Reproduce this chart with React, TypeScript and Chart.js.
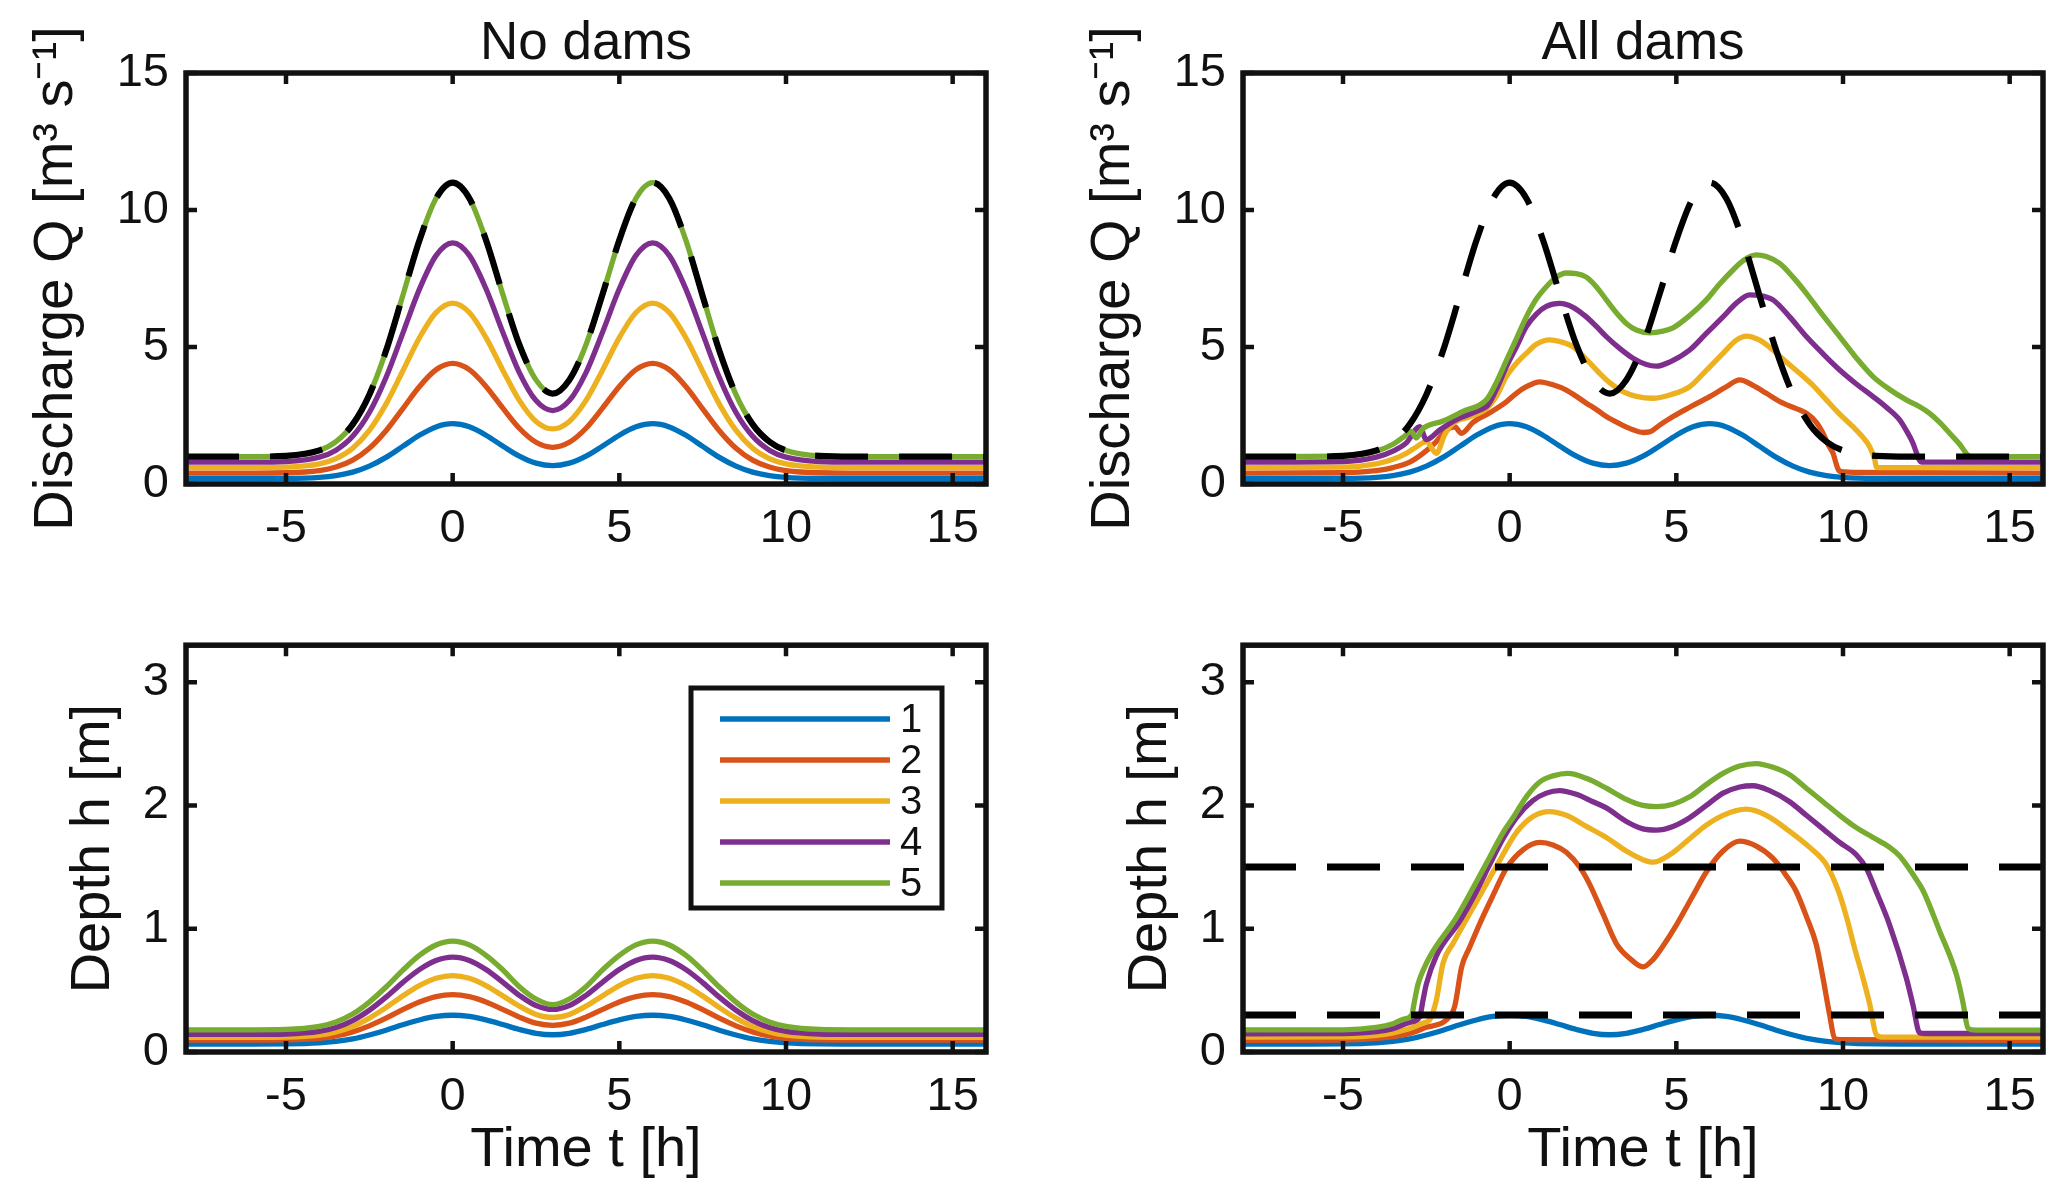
import { useEffect, useRef } from "react";
import { Chart, registerables } from "chart.js";

Chart.register(...registerables);

const FONT = "'Liberation Sans', Arial, Helvetica, sans-serif";
const INK = "#111111";
const SERIES_COLORS = ["#0072BD", "#D95319", "#EDB120", "#7E2F8E", "#77AC30"];
const SERIES_LABELS = ["1", "2", "3", "4", "5"];
const INFLOW_COLOR = "#000000";

// axes
const TIME_MIN = -8;
const TIME_MAX = 16;
const TIME_TICKS = [-5, 0, 5, 10, 15];
const Q_MAX = 15;
const Q_TICKS = [0, 5, 10, 15];
const H_MAX = 3.3;
const H_TICKS = [0, 1, 2, 3];

// ---------- No dams (shared time base) ----------
const timeNoDams = [-8, -6, -5, -4, -3.5, -3, -2.5, -2, -1.5, -1, -0.5, 0, 0.5, 1, 1.5, 2, 2.5, 3, 3.5, 4, 4.5, 5, 5.5, 6, 6.5, 7, 7.5, 8, 8.5, 9, 9.5, 10, 11, 12, 16];

const noDamsQ1 = [0.2, 0.2, 0.205, 0.245, 0.309, 0.435, 0.652, 0.972, 1.372, 1.776, 2.084, 2.2, 2.086, 1.781, 1.388, 1.017, 0.761, 0.67, 0.761, 1.017, 1.388, 1.781, 2.086, 2.2, 2.084, 1.776, 1.372, 0.972, 0.652, 0.435, 0.309, 0.245, 0.205, 0.2, 0.2];
const noDamsQ2 = [0.4, 0.4, 0.41, 0.49, 0.618, 0.87, 1.304, 1.944, 2.744, 3.552, 4.168, 4.4, 4.172, 3.562, 2.776, 2.034, 1.522, 1.34, 1.522, 2.034, 2.776, 3.562, 4.172, 4.4, 4.168, 3.552, 2.744, 1.944, 1.304, 0.87, 0.618, 0.49, 0.41, 0.4, 0.4];
const noDamsQ3 = [0.6, 0.6, 0.615, 0.735, 0.927, 1.305, 1.956, 2.916, 4.116, 5.328, 6.252, 6.6, 6.258, 5.343, 4.164, 3.051, 2.283, 2.01, 2.283, 3.051, 4.164, 5.343, 6.258, 6.6, 6.252, 5.328, 4.116, 2.916, 1.956, 1.305, 0.927, 0.735, 0.615, 0.6, 0.6];
const noDamsQ4 = [0.8, 0.8, 0.82, 0.98, 1.236, 1.74, 2.608, 3.888, 5.488, 7.104, 8.336, 8.8, 8.344, 7.124, 5.552, 4.068, 3.044, 2.68, 3.044, 4.068, 5.552, 7.124, 8.344, 8.8, 8.336, 7.104, 5.488, 3.888, 2.608, 1.74, 1.236, 0.98, 0.82, 0.8, 0.8];
// outlet of reach 5 without dams = inflow hydrograph (black dashed)
const noDamsQ5 = [1.0, 1.0, 1.025, 1.225, 1.545, 2.175, 3.26, 4.86, 6.86, 8.88, 10.42, 11.0, 10.43, 8.905, 6.94, 5.085, 3.8, 3.3, 3.8, 5.085, 6.94, 8.905, 10.43, 11.0, 10.42, 8.88, 6.86, 4.86, 3.26, 2.175, 1.545, 1.225, 1.025, 1.0, 1.0];

const noDamsH1 = [0.065, 0.065, 0.066, 0.074, 0.086, 0.106, 0.138, 0.177, 0.221, 0.26, 0.288, 0.298, 0.288, 0.26, 0.223, 0.183, 0.152, 0.14, 0.152, 0.183, 0.223, 0.26, 0.288, 0.298, 0.288, 0.26, 0.221, 0.177, 0.138, 0.106, 0.086, 0.074, 0.066, 0.065, 0.065];
const noDamsH2 = [0.097, 0.097, 0.099, 0.111, 0.13, 0.163, 0.212, 0.274, 0.343, 0.405, 0.449, 0.465, 0.449, 0.406, 0.346, 0.283, 0.234, 0.216, 0.234, 0.283, 0.346, 0.406, 0.449, 0.465, 0.449, 0.405, 0.343, 0.274, 0.212, 0.163, 0.13, 0.111, 0.099, 0.097, 0.097];
const noDamsH3 = [0.118, 0.118, 0.12, 0.137, 0.163, 0.207, 0.275, 0.36, 0.454, 0.538, 0.598, 0.62, 0.598, 0.539, 0.457, 0.372, 0.305, 0.28, 0.305, 0.372, 0.457, 0.539, 0.598, 0.62, 0.598, 0.538, 0.454, 0.36, 0.275, 0.207, 0.163, 0.137, 0.12, 0.118, 0.118];
const noDamsH4 = [0.143, 0.143, 0.146, 0.167, 0.199, 0.255, 0.339, 0.445, 0.563, 0.668, 0.742, 0.77, 0.743, 0.669, 0.567, 0.46, 0.377, 0.345, 0.377, 0.46, 0.567, 0.669, 0.743, 0.77, 0.742, 0.668, 0.563, 0.445, 0.339, 0.255, 0.199, 0.167, 0.146, 0.143, 0.143];
const noDamsH5 = [0.18, 0.18, 0.183, 0.208, 0.244, 0.308, 0.405, 0.527, 0.662, 0.783, 0.868, 0.9, 0.869, 0.784, 0.667, 0.53, 0.43, 0.385, 0.43, 0.53, 0.667, 0.784, 0.869, 0.9, 0.868, 0.783, 0.662, 0.527, 0.405, 0.308, 0.244, 0.208, 0.183, 0.18, 0.18];

// ---------- All dams: discharge ----------
const damsQ2T = [-8, -5, -4, -3.5, -3, -2.6, -2.2, -1.9, -1.65, -1.45, -1.1, -0.6, -0.1, 0.2, 0.5, 0.9, 1.3, 1.7, 2.0, 2.3, 2.6, 2.9, 3.3, 3.7, 4.0, 4.2, 4.5, 4.9, 5.4, 6.0, 6.5, 6.9, 7.3, 7.7, 8.2, 8.6, 8.9, 9.2, 9.4, 9.55, 9.7, 9.85, 9.95, 10.5, 16];
const damsQ2 = [0.4, 0.41, 0.49, 0.6, 0.8, 1.12, 1.55, 1.97, 2.09, 1.85, 2.25, 2.6, 3.0, 3.31, 3.55, 3.73, 3.62, 3.43, 3.2, 2.95, 2.72, 2.46, 2.2, 1.98, 1.88, 1.9, 2.15, 2.46, 2.8, 3.19, 3.55, 3.8, 3.6, 3.31, 2.95, 2.75, 2.58, 2.25, 1.85, 1.45, 1.12, 0.55, 0.45, 0.42, 0.4];

const damsQ3T = [-8, -5, -4, -3.5, -3.1, -2.8, -2.5, -2.2, -1.95, -1.7, -1.2, -0.7, -0.4, -0.1, 0.2, 0.5, 0.8, 1.2, 1.5, 1.9, 2.3, 2.7, 3.0, 3.4, 3.8, 4.3, 4.8, 5.4, 5.9, 6.4, 6.8, 7.1, 7.5, 7.9, 8.3, 8.7, 9.1, 9.5, 9.9, 10.3, 10.6, 10.8, 10.95, 11.0, 11.05, 16];
const damsQ3 = [0.6, 0.615, 0.735, 0.9, 1.12, 1.35, 1.55, 1.12, 1.8, 2.21, 2.45, 2.75, 3.2, 3.92, 4.4, 4.77, 5.1, 5.26, 5.2, 5.01, 4.55, 4.04, 3.7, 3.37, 3.2, 3.13, 3.25, 3.55, 4.15, 4.77, 5.25, 5.4, 5.25, 4.89, 4.45, 4.04, 3.6, 3.07, 2.55, 2.09, 1.7, 1.36, 0.9, 0.62, 0.6, 0.6];

const damsQ4T = [-8, -5, -4, -3.5, -3.1, -2.7, -2.5, -2.1, -1.6, -1.0, -0.64, -0.4, -0.1, 0.2, 0.5, 0.8, 1.1, 1.5, 1.9, 2.3, 2.6, 2.9, 3.3, 3.7, 4.1, 4.4, 4.8, 5.4, 5.9, 6.4, 6.8, 7.2, 7.5, 7.9, 8.4, 8.9, 9.4, 9.9, 10.4, 10.9, 11.3, 11.7, 11.9, 12.1, 12.2, 12.3, 12.35, 16];
const damsQ4 = [0.8, 0.82, 0.98, 1.2, 1.5, 2.09, 1.62, 1.97, 2.35, 2.65, 2.9, 3.45, 4.28, 5.0, 5.74, 6.2, 6.48, 6.59, 6.45, 6.1, 5.75, 5.38, 4.95, 4.59, 4.36, 4.3, 4.45, 4.89, 5.5, 6.1, 6.6, 6.9, 6.88, 6.72, 6.1, 5.38, 4.75, 4.16, 3.65, 3.19, 2.8, 2.34, 1.95, 1.49, 1.15, 0.85, 0.8, 0.8];

const damsQ5T = [-8, -5, -4, -3.5, -3.2, -2.95, -2.8, -2.62, -2.0, -1.4, -0.7, -0.4, -0.1, 0.2, 0.5, 0.8, 1.1, 1.4, 1.7, 2.0, 2.3, 2.6, 2.9, 3.2, 3.5, 3.8, 4.2, 4.6, 4.9, 5.4, 5.9, 6.3, 6.7, 7.0, 7.4, 7.7, 8.1, 8.5, 8.9, 9.4, 9.9, 10.4, 10.9, 11.4, 11.9, 12.3, 12.6, 12.9, 13.2, 13.5, 13.75, 13.85, 16];
const damsQ5 = [1.0, 1.025, 1.2, 1.45, 1.7, 1.92, 1.68, 2.0, 2.3, 2.65, 3.07, 3.7, 4.5, 5.3, 6.1, 6.75, 7.2, 7.55, 7.7, 7.68, 7.55, 7.2, 6.72, 6.25, 5.86, 5.62, 5.52, 5.58, 5.7, 6.15, 6.72, 7.3, 7.81, 8.15, 8.36, 8.3, 8.05, 7.55, 6.96, 6.15, 5.38, 4.6, 3.92, 3.45, 3.07, 2.82, 2.58, 2.25, 1.85, 1.45, 1.05, 1.0, 1.0];

// ---------- All dams: depth ----------
const damsH2T = [-8, -5, -4, -3.5, -3, -2.5, -1.9, -1.65, -1.44, -1.2, -0.9, -0.5, -0.1, 0.4, 0.9, 1.3, 1.7, 2.1, 2.4, 2.8, 3.2, 3.6, 4.0, 4.3, 4.6, 5.0, 5.5, 5.9, 6.4, 6.9, 7.4, 7.9, 8.3, 8.6, 8.9, 9.2, 9.4, 9.6, 9.75, 9.9, 16];
const damsH2 = [0.095, 0.097, 0.11, 0.125, 0.15, 0.2, 0.26, 0.37, 0.69, 0.85, 1.04, 1.27, 1.49, 1.64, 1.7, 1.68, 1.62, 1.5, 1.36, 1.12, 0.88, 0.76, 0.69, 0.75, 0.86, 1.03, 1.27, 1.46, 1.63, 1.71, 1.67, 1.57, 1.43, 1.3, 1.1, 0.87, 0.6, 0.3, 0.11, 0.1, 0.095];

const damsH3T = [-8, -5, -4, -3.5, -3, -2.6, -2.4, -2.2, -2.0, -1.7, -1.1, -0.35, 0.2, 0.7, 1.2, 1.7, 2.3, 2.9, 3.5, 4.0, 4.3, 4.8, 5.4, 5.9, 6.4, 7.1, 7.7, 8.4, 9.0, 9.5, 9.87, 10.1, 10.37, 10.6, 10.8, 11.0, 11.2, 16];
const damsH3 = [0.12, 0.122, 0.135, 0.155, 0.19, 0.235, 0.26, 0.42, 0.72, 0.88, 1.17, 1.53, 1.78, 1.91, 1.95, 1.92, 1.83, 1.74, 1.63, 1.56, 1.54, 1.6, 1.73, 1.84, 1.92, 1.97, 1.92, 1.79, 1.66, 1.52, 1.3, 1.1, 0.82, 0.6, 0.39, 0.14, 0.12, 0.12];

const damsH4T = [-8, -5, -4, -3.5, -3, -2.7, -2.6, -2.5, -2.2, -1.5, -1.0, -0.6, -0.2, 0.2, 0.7, 1.1, 1.5, 2.0, 2.5, 2.9, 3.5, 4.0, 4.4, 4.9, 5.4, 5.9, 6.4, 6.9, 7.3, 7.8, 8.4, 8.9, 9.4, 9.9, 10.4, 10.7, 11.0, 11.4, 11.9, 12.1, 12.3, 12.5, 16];
const damsH4 = [0.148, 0.15, 0.165, 0.19, 0.24, 0.285, 0.42, 0.55, 0.78, 1.06, 1.3, 1.52, 1.73, 1.9, 2.04, 2.1, 2.12, 2.09, 2.03, 1.98, 1.87, 1.81, 1.8, 1.83, 1.9, 2.0, 2.1, 2.15, 2.16, 2.12, 2.03, 1.92, 1.81, 1.7, 1.6, 1.49, 1.3, 1.03, 0.6, 0.38, 0.155, 0.15, 0.15];

const damsH5T = [-8, -5, -4, -3.5, -3.2, -2.94, -2.85, -2.75, -2.6, -2.34, -1.6, -1.1, -0.6, -0.2, 0.1, 0.5, 0.9, 1.3, 1.75, 2.3, 2.9, 3.5, 4.0, 4.4, 4.9, 5.4, 5.9, 6.4, 6.9, 7.4, 7.9, 8.4, 8.9, 9.4, 9.9, 10.4, 10.9, 11.4, 11.7, 11.9, 12.15, 12.4, 12.9, 13.4, 13.6, 13.75, 14, 16];
const damsH5 = [0.18, 0.18, 0.2, 0.23, 0.265, 0.3, 0.42, 0.55, 0.66, 0.8, 1.09, 1.33, 1.58, 1.78, 1.9, 2.07, 2.19, 2.24, 2.26, 2.22, 2.14, 2.05, 2.0, 1.99, 2.01, 2.07, 2.17, 2.26, 2.32, 2.34, 2.31, 2.25, 2.14, 2.03, 1.92, 1.82, 1.74, 1.66, 1.59, 1.52, 1.42, 1.31, 0.98, 0.63, 0.4, 0.19, 0.177, 0.177];

// dam crest levels (black dashed, lower right)
const levelTimes = [-8, 16];
const damLevelHigh = [1.5, 1.5];
const damLevelLow = [0.3, 0.3];

type Pt = { x: number; y: number };
const zip = (ts: number[], vs: number[]): Pt[] => ts.map((t, i) => ({ x: t, y: vs[i] }));

const LINE_W = 5.3;

function curve(label: string, times: number[], values: number[], color: string, order: number, width = LINE_W, dash: number[] = []) {
  return {
    label,
    data: zip(times, values),
    borderColor: color,
    backgroundColor: color,
    borderWidth: width,
    borderDash: dash,
    borderCapStyle: "butt",
    borderJoinStyle: "round",
    pointRadius: 0,
    pointHoverRadius: 0,
    fill: false,
    cubicInterpolationMode: "monotone",
    order,
  };
}

const DASH = [53, 31];

const boxPlugin = {
  id: "matlabBox",
  afterDatasetsDraw(chart: any) {
    const { ctx, chartArea, scales } = chart;
    const { left, right, top, bottom } = chartArea;
    const xs = scales.x;
    const ys = scales.y;
    const L = 11;
    ctx.save();
    ctx.strokeStyle = INK;
    ctx.lineCap = "butt";
    ctx.lineWidth = 4.5;
    ctx.beginPath();
    for (const t of xs.ticks) {
      const px = xs.getPixelForValue(t.value);
      ctx.moveTo(px, bottom);
      ctx.lineTo(px, bottom - L);
      ctx.moveTo(px, top);
      ctx.lineTo(px, top + L);
    }
    for (const t of ys.ticks) {
      const py = ys.getPixelForValue(t.value);
      ctx.moveTo(left, py);
      ctx.lineTo(left + L, py);
      ctx.moveTo(right, py);
      ctx.lineTo(right - L, py);
    }
    ctx.stroke();
    ctx.lineWidth = 5.5;
    ctx.lineJoin = "miter";
    ctx.strokeRect(left, top, right - left, bottom - top);
    ctx.restore();
  },
};

const legendPlugin = {
  id: "legendBox",
  afterDraw(chart: any, _args: any, opts: any) {
    const { ctx } = chart;
    const items = chart.data.datasets.filter((d: any) => d.label);
    ctx.save();
    ctx.fillStyle = "#ffffff";
    ctx.fillRect(opts.x, opts.y, opts.w, opts.h);
    ctx.strokeStyle = INK;
    ctx.lineWidth = 5;
    ctx.strokeRect(opts.x, opts.y, opts.w, opts.h);
    ctx.font = `${opts.fontSize}px ${FONT}`;
    ctx.textBaseline = "middle";
    ctx.textAlign = "left";
    items.forEach((d: any, i: number) => {
      const yy = opts.y + opts.firstRow + i * opts.rowGap;
      ctx.beginPath();
      ctx.strokeStyle = d.borderColor;
      ctx.lineWidth = d.borderWidth;
      ctx.moveTo(opts.lineX0, yy);
      ctx.lineTo(opts.lineX1, yy);
      ctx.stroke();
      ctx.fillStyle = INK;
      ctx.fillText(d.label, opts.textX, yy + 2);
    });
    ctx.restore();
  },
};

type PanelSpec = {
  title?: string;
  yTitle: string;
  yTitlePad: number;
  yMax: number;
  yTicks: number[];
  xTitle?: string;
  isTop: boolean;
  legend?: any;
};

function panelOptions(p: PanelSpec) {
  const tickFont = { family: FONT, size: 47 };
  const labelFont = { family: FONT, size: 56, lineHeight: 1.2 };
  return {
    responsive: false,
    maintainAspectRatio: false,
    animation: false,
    devicePixelRatio: 1,
    events: [],
    layout: { padding: { left: 0, right: 24, top: p.isTop ? 0 : 42, bottom: p.isTop ? 16 : 9 } },
    plugins: {
      legend: { display: false },
      tooltip: { enabled: false },
      title: {
        display: !!p.title,
        fullSize: false,
        text: p.title ?? "",
        color: INK,
        font: { family: FONT, size: 53, weight: "normal", lineHeight: 1 },
        padding: { top: 17.5, bottom: 2.5 },
      },
      legendBox: p.legend ?? false,
    },
    scales: {
      x: {
        type: "linear",
        position: "bottom",
        min: TIME_MIN,
        max: TIME_MAX,
        afterBuildTicks: (s: any) => {
          s.ticks = TIME_TICKS.map((v) => ({ value: v }));
        },
        afterFit: (s: any) => {
          s.height = p.isTop ? 100 : 140;
        },
        grid: { display: false, drawTicks: false },
        border: { display: false },
        ticks: { color: INK, font: tickFont, padding: 17, autoSkip: false, maxRotation: 0, minRotation: 0 },
        title: {
          display: !!p.xTitle,
          text: p.xTitle ?? "",
          color: INK,
          font: labelFont,
          padding: { top: 0, bottom: 7.4 },
        },
      },
      y: {
        type: "linear",
        position: "left",
        min: 0,
        max: p.yMax,
        afterBuildTicks: (s: any) => {
          s.ticks = p.yTicks.map((v) => ({ value: v }));
        },
        afterFit: (s: any) => {
          s.width = 186;
        },
        grid: { display: false, drawTicks: false },
        border: { display: false },
        ticks: { color: INK, font: tickFont, padding: 17, autoSkip: false },
        title: {
          display: true,
          text: p.yTitle,
          color: INK,
          font: labelFont,
          padding: { top: p.yTitlePad, bottom: 0 },
        },
      },
    },
  };
}

const Q_LABEL = "Discharge Q [m\u00B3 s\u207B\u00B9]";
const H_LABEL = "Depth h [m]";
const T_LABEL = "Time t [h]";

export default function App() {
  const qNoRef = useRef<HTMLCanvasElement>(null);
  const qAllRef = useRef<HTMLCanvasElement>(null);
  const hNoRef = useRef<HTMLCanvasElement>(null);
  const hAllRef = useRef<HTMLCanvasElement>(null);

  useEffect(() => {
    const c = SERIES_COLORS;
    const charts: Chart[] = [];

    charts.push(
      new Chart(qNoRef.current as HTMLCanvasElement, {
        type: "line",
        data: {
          datasets: [
            curve(SERIES_LABELS[0], timeNoDams, noDamsQ1, c[0], 5),
            curve(SERIES_LABELS[1], timeNoDams, noDamsQ2, c[1], 4),
            curve(SERIES_LABELS[2], timeNoDams, noDamsQ3, c[2], 3),
            curve(SERIES_LABELS[3], timeNoDams, noDamsQ4, c[3], 2),
            curve(SERIES_LABELS[4], timeNoDams, noDamsQ5, c[4], 1),
            curve("", timeNoDams, noDamsQ5, INFLOW_COLOR, 0, 6.2, DASH),
          ],
        },
        options: panelOptions({ title: "No dams", yTitle: Q_LABEL, yTitlePad: 23, yMax: Q_MAX, yTicks: Q_TICKS, isTop: true }) as any,
        plugins: [boxPlugin],
      })
    );

    charts.push(
      new Chart(qAllRef.current as HTMLCanvasElement, {
        type: "line",
        data: {
          datasets: [
            curve(SERIES_LABELS[0], timeNoDams, noDamsQ1, c[0], 5),
            curve(SERIES_LABELS[1], damsQ2T, damsQ2, c[1], 4),
            curve(SERIES_LABELS[2], damsQ3T, damsQ3, c[2], 3),
            curve(SERIES_LABELS[3], damsQ4T, damsQ4, c[3], 2),
            curve(SERIES_LABELS[4], damsQ5T, damsQ5, c[4], 1),
            curve("", timeNoDams, noDamsQ5, INFLOW_COLOR, 0, 6.2, DASH),
          ],
        },
        options: panelOptions({ title: "All dams", yTitle: Q_LABEL, yTitlePad: 23, yMax: Q_MAX, yTicks: Q_TICKS, isTop: true }) as any,
        plugins: [boxPlugin],
      })
    );

    charts.push(
      new Chart(hNoRef.current as HTMLCanvasElement, {
        type: "line",
        data: {
          datasets: [
            curve(SERIES_LABELS[0], timeNoDams, noDamsH1, c[0], 5),
            curve(SERIES_LABELS[1], timeNoDams, noDamsH2, c[1], 4),
            curve(SERIES_LABELS[2], timeNoDams, noDamsH3, c[2], 3),
            curve(SERIES_LABELS[3], timeNoDams, noDamsH4, c[3], 2),
            curve(SERIES_LABELS[4], timeNoDams, noDamsH5, c[4], 1),
          ],
        },
        options: panelOptions({
          yTitle: H_LABEL,
          yTitlePad: 60,
          yMax: H_MAX,
          yTicks: H_TICKS,
          xTitle: T_LABEL,
          isTop: false,
          legend: { x: 691, y: 88, w: 251, h: 220, firstRow: 31, rowGap: 41, lineX0: 720, lineX1: 890, textX: 900, fontSize: 40 },
        }) as any,
        plugins: [boxPlugin, legendPlugin],
      })
    );

    charts.push(
      new Chart(hAllRef.current as HTMLCanvasElement, {
        type: "line",
        data: {
          datasets: [
            curve(SERIES_LABELS[0], timeNoDams, noDamsH1, c[0], 5),
            curve(SERIES_LABELS[1], damsH2T, damsH2, c[1], 4),
            curve(SERIES_LABELS[2], damsH3T, damsH3, c[2], 3),
            curve(SERIES_LABELS[3], damsH4T, damsH4, c[3], 2),
            curve(SERIES_LABELS[4], damsH5T, damsH5, c[4], 1),
            curve("", levelTimes, damLevelHigh, INFLOW_COLOR, 0, 7, DASH),
            curve("", levelTimes, damLevelLow, INFLOW_COLOR, 0, 7, DASH),
          ],
        },
        options: panelOptions({ yTitle: H_LABEL, yTitlePad: 60, yMax: H_MAX, yTicks: H_TICKS, xTitle: T_LABEL, isTop: false }) as any,
        plugins: [boxPlugin],
      })
    );

    return () => charts.forEach((ch) => ch.destroy());
  }, []);

  const canvasStyle = (left: number, top: number, w: number, h: number) => ({
    position: "absolute" as const,
    left,
    top,
    width: w,
    height: h,
  });

  return (
    <div style={{ position: "absolute", left: 0, top: 0, width: 2067, height: 1201, background: "#ffffff" }}>
      <canvas ref={qNoRef} width={1010} height={600} style={canvasStyle(0, 0, 1010, 600)} />
      <canvas ref={qAllRef} width={1010} height={600} style={canvasStyle(1057, 0, 1010, 600)} />
      <canvas ref={hNoRef} width={1010} height={601} style={canvasStyle(0, 600, 1010, 601)} />
      <canvas ref={hAllRef} width={1010} height={601} style={canvasStyle(1057, 600, 1010, 601)} />
    </div>
  );
}
